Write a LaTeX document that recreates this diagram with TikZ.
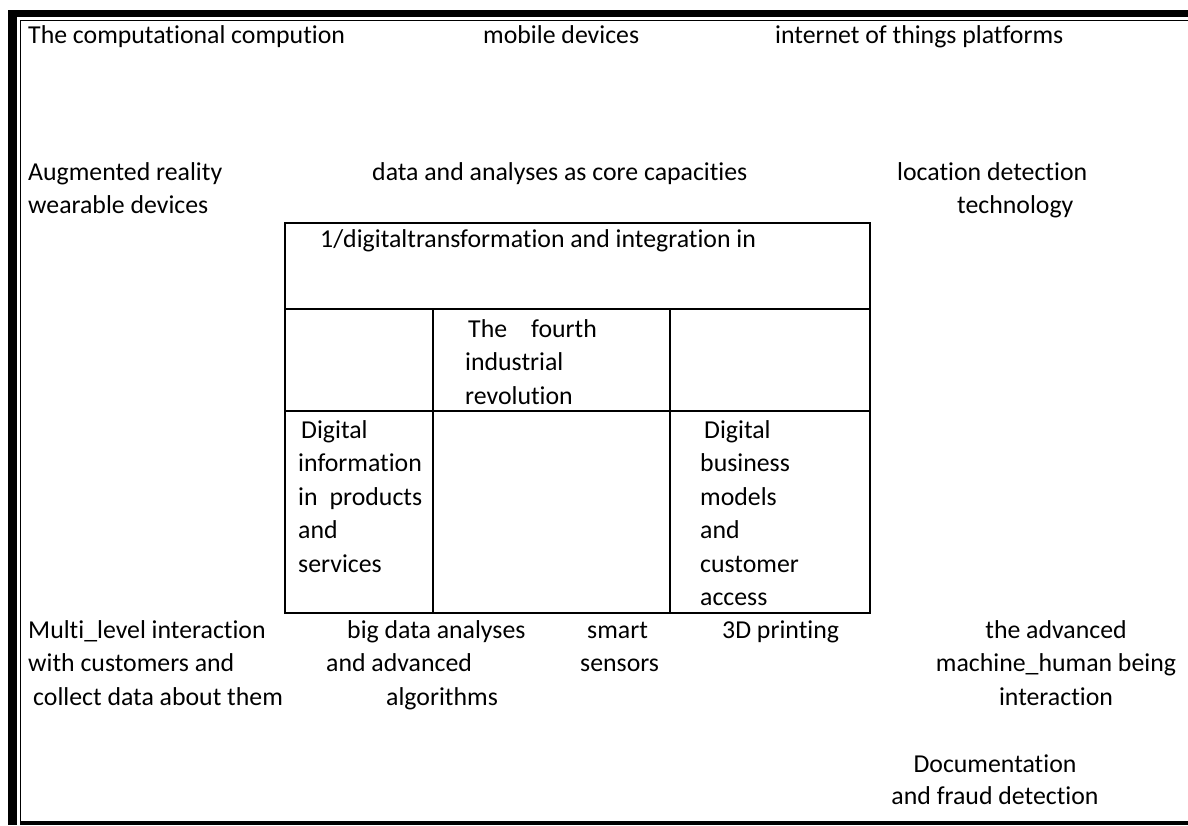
\documentclass[tikz,border=0pt]{standalone}
\usepackage{fontspec}
\setmainfont[Ligatures=NoCommon]{Carlito}
\usepackage{tikz}
\newcommand{\txtfont}{\fontsize{25.8}{33.5}\selectfont}
\tikzset{lbl/.style={inner sep=0pt,anchor=base west,align=left,font=\txtfont},
	clbl/.style={lbl,anchor=base,align=center}}

\begin{document}
\begin{tikzpicture}[x=1pt,y=-1pt]
		\useasboundingbox (0,0) rectangle (1188,825);
		\fill[black] (8,10) rectangle (1188,17);
		\fill[black] (8,10) rectangle (17,825);
		\draw[line width=1.5pt] (1188,20.5) -- (20.5,20.5) -- (20.5,821);
		\fill[black] (20,821) rectangle (1188,825);

		\draw[line width=1.4pt] (285,223) rectangle (870,613);
		\draw[line width=1.4pt] (285,309) -- (870,309);
		\draw[line width=1.4pt] (285,411) -- (870,411);
		\draw[line width=1.4pt] (433,309) -- (433,613);
		\draw[line width=1.4pt] (670,309) -- (670,613);

		% multi-line nodes sit on the baseline of their last line
		\node[lbl] (comp) at (28,43) {The computational compution};
		\node[lbl] (mobile) at (483,43) {mobile devices};
		\node[lbl] (iot) at (775,43) {internet of things platforms};

		\node[lbl] (augm) at (28,213.5) {Augmented reality\\wearable devices};
		\node[lbl] (core) at (372,180) {data and analyses as core capacities};
		\node[lbl] (loc) at (897,213.5) {location detection\\\hspace*{60pt}technology};

		\node[lbl] (title) at (320,247) {1/digitaltransformation and integration in};
		\node[lbl] (fourth) at (465,404) {\hspace*{3pt}The\hspace{24pt}fourth\\industrial\\revolution};
		\node[lbl] (info) at (298,572) {\hspace*{3pt}Digital\\information\\in\hspace{12pt}products\\and\\services};
		\node[lbl] (busi) at (700,605.5) {\hspace*{4pt}Digital\\business\\models\\and\\customer\\access};

		\node[lbl] (multi) at (28,705) {Multi\_level interaction\\with customers and\\\hspace*{5pt}collect data about them};
		\node[lbl] (bigdata) at (326,705) {\hspace*{21pt}big data analyses\\and advanced\\\hspace*{60pt}algorithms};
		\node[lbl] (smart) at (580,671.5) {\hspace*{7pt}smart\\sensors};
		\node[lbl] (print) at (722,638) {3D printing};
		\node[clbl] (hmi) at (1056,705) {the advanced\\machine\_human being\\interaction};
		\node[clbl, font=\fontsize{25.8}{32}\selectfont] (docu) at (995,804) {Documentation\\and fraud detection};
	\end{tikzpicture}
\end{document}
